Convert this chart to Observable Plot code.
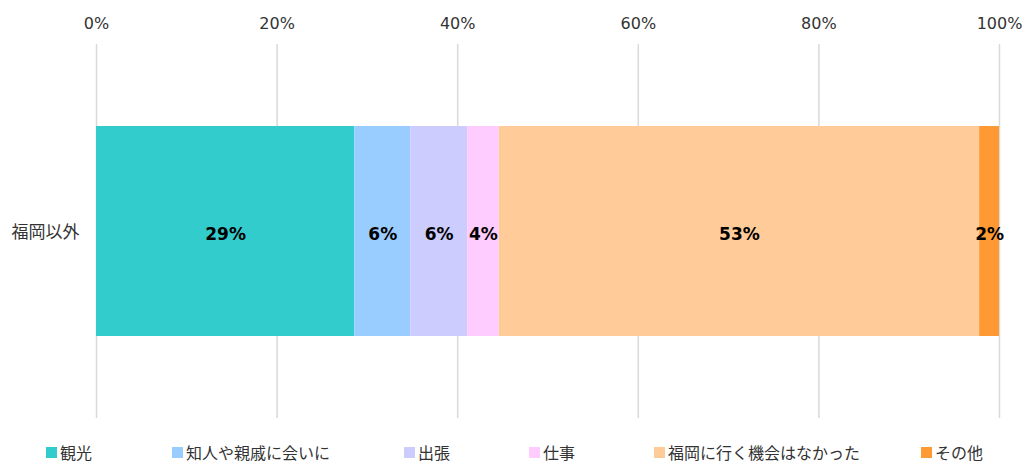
<!DOCTYPE html>
<html><head><meta charset="utf-8">
<script src="https://cdn.jsdelivr.net/npm/d3@7"></script>
<script src="https://cdn.jsdelivr.net/npm/@observablehq/plot@0.6"></script>
<style>
body{margin:0;background:#fff;font-family:"DejaVu Sans","Noto Sans CJK JP",sans-serif;}
#wrap{position:relative;width:1030px;height:467px;}
#legend{position:absolute;left:0;top:441px;width:1030px;height:22px;}
.li{position:absolute;top:0;height:22px;display:flex;align-items:center;font-family:"Noto Sans CJK JP",sans-serif;font-size:16px;color:#333;white-space:nowrap;}
.sw{width:11px;height:11px;margin-right:3px;}
</style></head>
<body><div id="wrap"><div id="chart"></div><div id="legend"></div></div>
<script>
const categories = ["福岡以外"];
const series = ["観光", "知人や親戚に会いに", "出張", "仕事", "福岡に行く機会はなかった", "その他"];
const values = [28.6, 6.2, 6.3, 3.5, 53.2, 2.2];
const valueLabels = ["29%", "6%", "6%", "4%", "53%", "2%"];
const colors = ["#33CCCC", "#99CCFF", "#CCCCFF", "#FFCCFF", "#FFCC99", "#FF9933"];
const xTicks = [0, 20, 40, 60, 80, 100];

const rows = series.map((s, i) => ({cat: categories[0], series: s, value: values[i], label: valueLabels[i]}));

const chart = Plot.plot({
  width: 1030,
  height: 430,
  marginLeft: 96,
  marginRight: 31,
  marginTop: 44,
  marginBottom: 12,
  style: {fontFamily: '"DejaVu Sans","Noto Sans CJK JP",sans-serif', fontSize: "16px", color: "#333"},
  x: {domain: [0, 100], label: null},
  y: {domain: categories, padding: 0.28, label: null},
  color: {domain: series, range: colors},
  marks: [
    Plot.ruleX(xTicks, {stroke: "#d9d9d9", strokeWidth: 1.5}),
    Plot.barX(rows, {x: "value", y: "cat", fill: "series"}),
    Plot.text(rows, Plot.stackX({x: "value", y: "cat", text: "label", fontWeight: "bold", fontSize: 17, fill: "#000", dy: 3})),
    Plot.axisX({anchor: "top", ticks: xTicks, tickFormat: d => d + "%", tickSize: 0, tickPadding: 16, fontSize: 16, fill: "#333", label: null}),
    Plot.axisY({tickSize: 0, tickPadding: 17, fontSize: 17, fill: "#333", dy: 1, label: null})
  ]
});
chart.querySelectorAll('[aria-label="y-axis tick label"] text, [aria-label="y-axis tick label"]').forEach(t => {
  t.style.fontFamily = '"Noto Sans CJK JP",sans-serif';
});
document.getElementById("chart").appendChild(chart);

const legendX = [46, 172, 404, 529, 654, 921];
const lg = document.getElementById("legend");
series.forEach((s, i) => {
  const d = document.createElement("div");
  d.className = "li";
  d.style.left = legendX[i] + "px";
  d.innerHTML = `<span class="sw" style="background:${colors[i]}"></span><span>${s}</span>`;
  lg.appendChild(d);
});
</script></body></html>
